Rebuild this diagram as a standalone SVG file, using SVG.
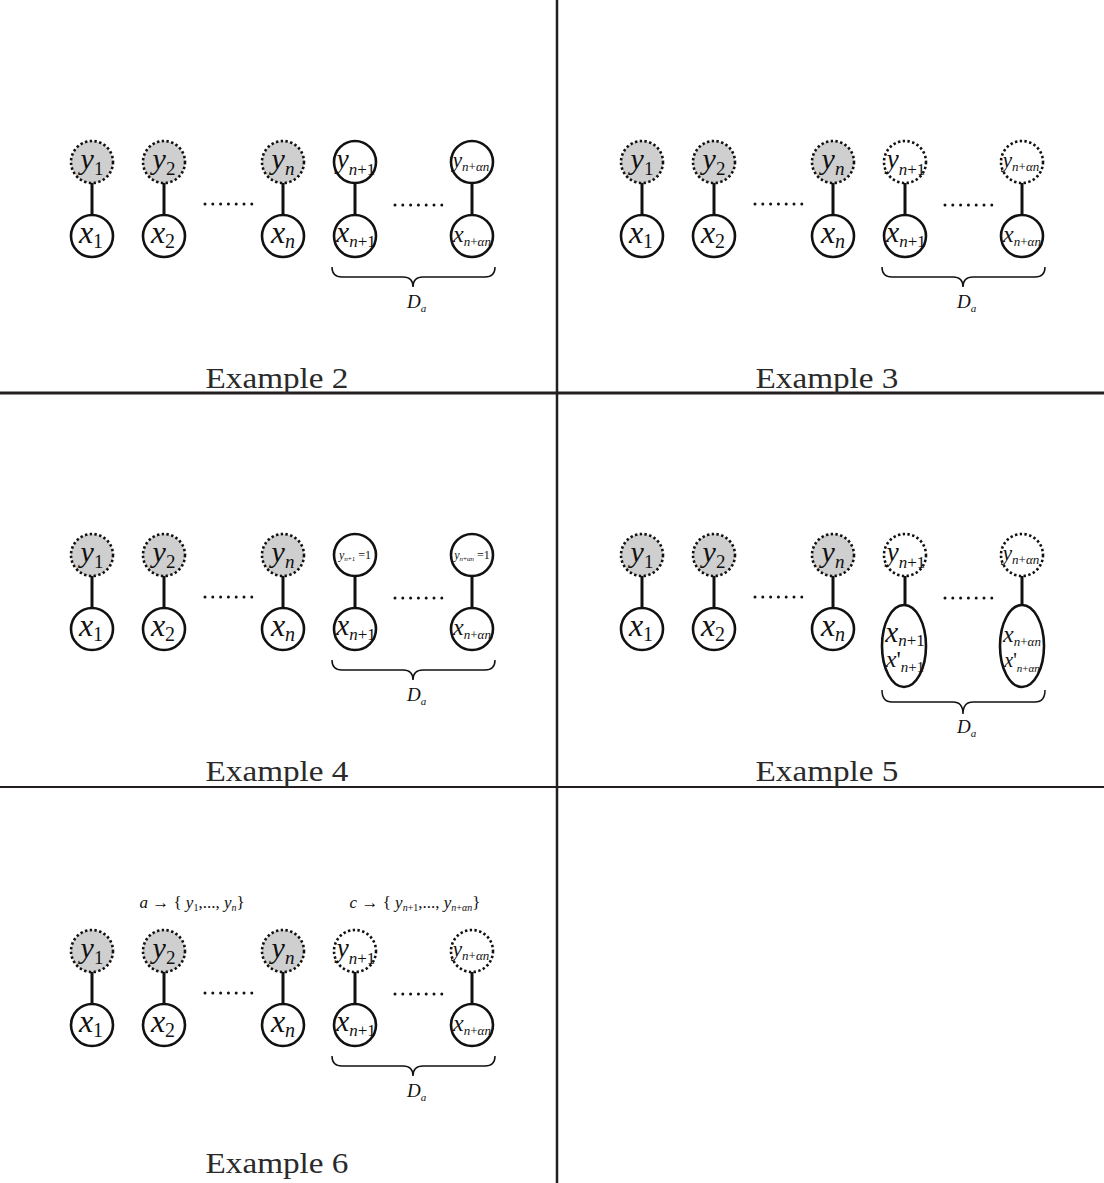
<svg xmlns="http://www.w3.org/2000/svg" width="1104" height="1183" viewBox="0 0 1104 1183">
<style>
.bg{fill:#fff}
.frame{stroke:#231f20;fill:none}
.title{font-family:"Liberation Serif","Times New Roman",serif;font-size:30px;fill:#2a2a2a}
.obs{fill:#cfcfcf;stroke:#111;stroke-width:2.6;stroke-dasharray:2.4 2.4}
.hid{fill:#fff;stroke:#111;stroke-width:2.6;stroke-dasharray:2.4 2.4}
.sol{fill:#fff;stroke:#111;stroke-width:2.6}
.edge{stroke:#111;stroke-width:3}
.dots{stroke:#111;stroke-width:3;stroke-linecap:round;stroke-dasharray:0 7.8;fill:none}
.brace{stroke:#111;stroke-width:1.5;fill:none}
.v{font-family:"Liberation Serif","Times New Roman",serif;font-style:italic;fill:#111}
.r{font-style:normal}
.i{font-style:italic}
</style>
<rect class="bg" x="0" y="0" width="1104" height="1183"/>
<g id="frame">
<line class="frame" x1="557" y1="0" x2="557" y2="1183" stroke-width="2.5"/>
<line class="frame" x1="0" y1="393" x2="1104" y2="393" stroke-width="2.8"/>
<line class="frame" x1="0" y1="787" x2="1104" y2="787" stroke-width="1.8"/>
</g>

<!-- Example 2 -->
<g id="example2">
<g id="ex2-connectors">
<line class="edge" x1="92" y1="183" x2="92" y2="215"/>
<line class="edge" x1="164" y1="183" x2="164" y2="215"/>
<line class="edge" x1="283" y1="183" x2="283" y2="215"/>
<line class="edge" x1="355" y1="183" x2="355" y2="215"/>
<line class="edge" x1="472" y1="183" x2="472" y2="215"/>
<path class="dots" d="M205,204 H252"/>
<path class="dots" d="M395,205 H443"/>
<path class="brace" d="M332,267 Q332,277 342,277 L403,277 Q413,277 413,287 Q413,277 423,277 L485,277 Q495,277 495,267"/>
</g>
<g id="ex2-y1"><circle class="obs" cx="92" cy="162" r="21"/><text class="v" x="92" y="169" text-anchor="middle" font-size="30">y<tspan class="r" font-size="19" dy="6">1</tspan></text></g>
<g id="ex2-y2"><circle class="obs" cx="164" cy="162" r="21"/><text class="v" x="164" y="169" text-anchor="middle" font-size="30">y<tspan class="r" font-size="19" dy="6">2</tspan></text></g>
<g id="ex2-yn"><circle class="obs" cx="283" cy="162" r="21"/><text class="v" x="283" y="169" text-anchor="middle" font-size="30">y<tspan font-size="19" dy="6">n</tspan></text></g>
<g id="ex2-x1"><circle class="sol" cx="92" cy="236" r="21"/><text class="v" x="91" y="243" text-anchor="middle" font-size="32">x<tspan class="r" font-size="20" dy="5">1</tspan></text></g>
<g id="ex2-x2"><circle class="sol" cx="164" cy="236" r="21"/><text class="v" x="163" y="243" text-anchor="middle" font-size="32">x<tspan class="r" font-size="20" dy="5">2</tspan></text></g>
<g id="ex2-xn"><circle class="sol" cx="283" cy="236" r="21"/><text class="v" x="283" y="243" text-anchor="middle" font-size="32">x<tspan font-size="20" dy="5">n</tspan></text></g>
<g id="ex2-yn1"><circle class="sol" cx="355" cy="162" r="21"/><text class="v" x="356" y="168" text-anchor="middle" font-size="27">y<tspan font-size="17" dy="7">n<tspan class="r">+1</tspan></tspan></text></g>
<g id="ex2-ynan"><circle class="sol" cx="472" cy="162" r="21"/><text class="v" x="471" y="167" text-anchor="middle" font-size="21">y<tspan font-size="13" dy="4">n<tspan class="r">+</tspan>αn</tspan></text></g>
<g id="ex2-xn1"><circle class="sol" cx="355" cy="236" r="21"/><text class="v" x="356" y="242" text-anchor="middle" font-size="29">x<tspan font-size="17" dy="5">n<tspan class="r">+1</tspan></tspan></text></g>
<g id="ex2-xnan"><circle class="sol" cx="472" cy="236" r="21"/><text class="v" x="472" y="242" text-anchor="middle" font-size="24">x<tspan font-size="13" dy="4">n<tspan class="r">+</tspan>αn</tspan></text></g>
<g id="ex2-Da"><text class="v" x="407" y="308" font-size="19">D<tspan font-size="11" dy="4">a</tspan></text></g>
<text class="title" x="277" y="388" text-anchor="middle" textLength="143" lengthAdjust="spacingAndGlyphs">Example 2</text>
</g>

<!-- Example 3 -->
<g id="example3" transform="translate(550,0)">
<g id="ex3-connectors">
<line class="edge" x1="92" y1="183" x2="92" y2="215"/>
<line class="edge" x1="164" y1="183" x2="164" y2="215"/>
<line class="edge" x1="283" y1="183" x2="283" y2="215"/>
<line class="edge" x1="355" y1="183" x2="355" y2="215"/>
<line class="edge" x1="472" y1="183" x2="472" y2="215"/>
<path class="dots" d="M205,204 H252"/>
<path class="dots" d="M395,205 H443"/>
<path class="brace" d="M332,267 Q332,277 342,277 L403,277 Q413,277 413,287 Q413,277 423,277 L485,277 Q495,277 495,267"/>
</g>
<g id="ex3-y1"><circle class="obs" cx="92" cy="162" r="21"/><text class="v" x="92" y="169" text-anchor="middle" font-size="30">y<tspan class="r" font-size="19" dy="6">1</tspan></text></g>
<g id="ex3-y2"><circle class="obs" cx="164" cy="162" r="21"/><text class="v" x="164" y="169" text-anchor="middle" font-size="30">y<tspan class="r" font-size="19" dy="6">2</tspan></text></g>
<g id="ex3-yn"><circle class="obs" cx="283" cy="162" r="21"/><text class="v" x="283" y="169" text-anchor="middle" font-size="30">y<tspan font-size="19" dy="6">n</tspan></text></g>
<g id="ex3-x1"><circle class="sol" cx="92" cy="236" r="21"/><text class="v" x="91" y="243" text-anchor="middle" font-size="32">x<tspan class="r" font-size="20" dy="5">1</tspan></text></g>
<g id="ex3-x2"><circle class="sol" cx="164" cy="236" r="21"/><text class="v" x="163" y="243" text-anchor="middle" font-size="32">x<tspan class="r" font-size="20" dy="5">2</tspan></text></g>
<g id="ex3-xn"><circle class="sol" cx="283" cy="236" r="21"/><text class="v" x="283" y="243" text-anchor="middle" font-size="32">x<tspan font-size="20" dy="5">n</tspan></text></g>
<g id="ex3-yn1"><circle class="hid" cx="355" cy="162" r="21"/><text class="v" x="356" y="168" text-anchor="middle" font-size="27">y<tspan font-size="17" dy="7">n<tspan class="r">+1</tspan></tspan></text></g>
<g id="ex3-ynan"><circle class="hid" cx="472" cy="162" r="21"/><text class="v" x="471" y="167" text-anchor="middle" font-size="21">y<tspan font-size="13" dy="4">n<tspan class="r">+</tspan>αn</tspan></text></g>
<g id="ex3-xn1"><circle class="sol" cx="355" cy="236" r="21"/><text class="v" x="356" y="242" text-anchor="middle" font-size="29">x<tspan font-size="17" dy="5">n<tspan class="r">+1</tspan></tspan></text></g>
<g id="ex3-xnan"><circle class="sol" cx="472" cy="236" r="21"/><text class="v" x="472" y="242" text-anchor="middle" font-size="24">x<tspan font-size="13" dy="4">n<tspan class="r">+</tspan>αn</tspan></text></g>
<g id="ex3-Da"><text class="v" x="407" y="308" font-size="19">D<tspan font-size="11" dy="4">a</tspan></text></g>
<text class="title" x="277" y="388" text-anchor="middle" textLength="143" lengthAdjust="spacingAndGlyphs">Example 3</text>
</g>

<!-- Example 4 -->
<g id="example4" transform="translate(0,393)">
<g id="ex4-connectors">
<line class="edge" x1="92" y1="183" x2="92" y2="215"/>
<line class="edge" x1="164" y1="183" x2="164" y2="215"/>
<line class="edge" x1="283" y1="183" x2="283" y2="215"/>
<line class="edge" x1="355" y1="183" x2="355" y2="215"/>
<line class="edge" x1="472" y1="183" x2="472" y2="215"/>
<path class="dots" d="M205,204 H252"/>
<path class="dots" d="M395,205 H443"/>
<path class="brace" d="M332,267 Q332,277 342,277 L403,277 Q413,277 413,287 Q413,277 423,277 L485,277 Q495,277 495,267"/>
</g>
<g id="ex4-y1"><circle class="obs" cx="92" cy="162" r="21"/><text class="v" x="92" y="169" text-anchor="middle" font-size="30">y<tspan class="r" font-size="19" dy="6">1</tspan></text></g>
<g id="ex4-y2"><circle class="obs" cx="164" cy="162" r="21"/><text class="v" x="164" y="169" text-anchor="middle" font-size="30">y<tspan class="r" font-size="19" dy="6">2</tspan></text></g>
<g id="ex4-yn"><circle class="obs" cx="283" cy="162" r="21"/><text class="v" x="283" y="169" text-anchor="middle" font-size="30">y<tspan font-size="19" dy="6">n</tspan></text></g>
<g id="ex4-x1"><circle class="sol" cx="92" cy="236" r="21"/><text class="v" x="91" y="243" text-anchor="middle" font-size="32">x<tspan class="r" font-size="20" dy="5">1</tspan></text></g>
<g id="ex4-x2"><circle class="sol" cx="164" cy="236" r="21"/><text class="v" x="163" y="243" text-anchor="middle" font-size="32">x<tspan class="r" font-size="20" dy="5">2</tspan></text></g>
<g id="ex4-xn"><circle class="sol" cx="283" cy="236" r="21"/><text class="v" x="283" y="243" text-anchor="middle" font-size="32">x<tspan font-size="20" dy="5">n</tspan></text></g>
<g id="ex4-yn1"><circle class="sol" cx="355" cy="162" r="21"/><text class="v" x="355" y="166" text-anchor="middle" font-size="12">y<tspan font-size="7" dy="2">n<tspan class="r">+1</tspan></tspan><tspan class="r" dy="-2"> =1</tspan></text></g>
<g id="ex4-ynan"><circle class="sol" cx="472" cy="162" r="21"/><text class="v" x="472" y="166" text-anchor="middle" font-size="12">y<tspan font-size="7" dy="2">n<tspan class="r">+</tspan>αn</tspan><tspan class="r" dy="-2"> =1</tspan></text></g>
<g id="ex4-xn1"><circle class="sol" cx="355" cy="236" r="21"/><text class="v" x="356" y="242" text-anchor="middle" font-size="29">x<tspan font-size="17" dy="5">n<tspan class="r">+1</tspan></tspan></text></g>
<g id="ex4-xnan"><circle class="sol" cx="472" cy="236" r="21"/><text class="v" x="472" y="242" text-anchor="middle" font-size="24">x<tspan font-size="13" dy="4">n<tspan class="r">+</tspan>αn</tspan></text></g>
<g id="ex4-Da"><text class="v" x="407" y="308" font-size="19">D<tspan font-size="11" dy="4">a</tspan></text></g>
<text class="title" x="277" y="388" text-anchor="middle" textLength="143" lengthAdjust="spacingAndGlyphs">Example 4</text>
</g>

<!-- Example 5 -->
<g id="example5" transform="translate(550,393)">
<g id="ex5-connectors">
<line class="edge" x1="92" y1="183" x2="92" y2="215"/>
<line class="edge" x1="164" y1="183" x2="164" y2="215"/>
<line class="edge" x1="283" y1="183" x2="283" y2="215"/>
<line class="edge" x1="355" y1="183" x2="355" y2="212"/>
<line class="edge" x1="472" y1="183" x2="472" y2="212"/>
<path class="dots" d="M205,204 H252"/>
<path class="dots" d="M395,205 H443"/>
<path class="brace" d="M332,297 Q332,309 342,309 L403,309 Q413,309 413,321 Q413,309 423,309 L485,309 Q495,309 495,297"/>
</g>
<g id="ex5-y1"><circle class="obs" cx="92" cy="162" r="21"/><text class="v" x="92" y="169" text-anchor="middle" font-size="30">y<tspan class="r" font-size="19" dy="6">1</tspan></text></g>
<g id="ex5-y2"><circle class="obs" cx="164" cy="162" r="21"/><text class="v" x="164" y="169" text-anchor="middle" font-size="30">y<tspan class="r" font-size="19" dy="6">2</tspan></text></g>
<g id="ex5-yn"><circle class="obs" cx="283" cy="162" r="21"/><text class="v" x="283" y="169" text-anchor="middle" font-size="30">y<tspan font-size="19" dy="6">n</tspan></text></g>
<g id="ex5-x1"><circle class="sol" cx="92" cy="236" r="21"/><text class="v" x="91" y="243" text-anchor="middle" font-size="32">x<tspan class="r" font-size="20" dy="5">1</tspan></text></g>
<g id="ex5-x2"><circle class="sol" cx="164" cy="236" r="21"/><text class="v" x="163" y="243" text-anchor="middle" font-size="32">x<tspan class="r" font-size="20" dy="5">2</tspan></text></g>
<g id="ex5-xn"><circle class="sol" cx="283" cy="236" r="21"/><text class="v" x="283" y="243" text-anchor="middle" font-size="32">x<tspan font-size="20" dy="5">n</tspan></text></g>
<g id="ex5-yn1"><circle class="hid" cx="355" cy="162" r="21"/><text class="v" x="356" y="168" text-anchor="middle" font-size="27">y<tspan font-size="17" dy="7">n<tspan class="r">+1</tspan></tspan></text></g>
<g id="ex5-ynan"><circle class="hid" cx="472" cy="162" r="21"/><text class="v" x="471" y="167" text-anchor="middle" font-size="21">y<tspan font-size="13" dy="4">n<tspan class="r">+</tspan>αn</tspan></text></g>
<g id="ex5-xn1"><ellipse class="sol" cx="354" cy="253" rx="22" ry="41"/>
<text class="v" x="355" y="249" text-anchor="middle" font-size="29">x<tspan font-size="17" dy="4">n<tspan class="r">+1</tspan></tspan></text>
<text class="v" x="355" y="274" text-anchor="middle" font-size="24">x<tspan class="r">'</tspan><tspan font-size="15" dy="5">n<tspan class="r">+1</tspan></tspan></text></g>
<g id="ex5-xnan"><ellipse class="sol" cx="472" cy="253" rx="22" ry="41"/>
<text class="v" x="472" y="249" text-anchor="middle" font-size="24">x<tspan font-size="13" dy="4">n<tspan class="r">+</tspan>αn</tspan></text>
<text class="v" x="472" y="274" text-anchor="middle" font-size="20">x<tspan class="r">'</tspan><tspan font-size="11" dy="5">n<tspan class="r">+</tspan>αn</tspan></text></g>
<g id="ex5-Da"><text class="v" x="407" y="340" font-size="19">D<tspan font-size="11" dy="4">a</tspan></text></g>
<text class="title" x="277" y="388" text-anchor="middle" textLength="143" lengthAdjust="spacingAndGlyphs">Example 5</text>
</g>

<!-- Example 6 -->
<g id="example6" transform="translate(0,789)">
<g id="ex6-connectors">
<line class="edge" x1="92" y1="183" x2="92" y2="215"/>
<line class="edge" x1="164" y1="183" x2="164" y2="215"/>
<line class="edge" x1="283" y1="183" x2="283" y2="215"/>
<line class="edge" x1="355" y1="183" x2="355" y2="215"/>
<line class="edge" x1="472" y1="183" x2="472" y2="215"/>
<path class="dots" d="M205,204 H252"/>
<path class="dots" d="M395,205 H443"/>
<path class="brace" d="M332,267 Q332,277 342,277 L403,277 Q413,277 413,287 Q413,277 423,277 L485,277 Q495,277 495,267"/>
</g>
<g id="ex6-labelA"><text class="v" x="192" y="119" text-anchor="middle" font-size="17">a<tspan class="r"> → { </tspan>y<tspan class="r" font-size="10" dy="3">1</tspan><tspan class="r" dy="-3">,..., </tspan>y<tspan font-size="10" dy="3">n</tspan><tspan class="r" dy="-3">}</tspan></text></g>
<g id="ex6-labelC"><text class="v" x="415" y="119" text-anchor="middle" font-size="17">c<tspan class="r"> → { </tspan>y<tspan font-size="10" dy="3">n<tspan class="r">+1</tspan></tspan><tspan class="r" dy="-3">,..., </tspan>y<tspan font-size="10" dy="3">n<tspan class="r">+</tspan>αn</tspan><tspan class="r" dy="-3">}</tspan></text></g>
<g id="ex6-y1"><circle class="obs" cx="92" cy="162" r="21"/><text class="v" x="92" y="169" text-anchor="middle" font-size="30">y<tspan class="r" font-size="19" dy="6">1</tspan></text></g>
<g id="ex6-y2"><circle class="obs" cx="164" cy="162" r="21"/><text class="v" x="164" y="169" text-anchor="middle" font-size="30">y<tspan class="r" font-size="19" dy="6">2</tspan></text></g>
<g id="ex6-yn"><circle class="obs" cx="283" cy="162" r="21"/><text class="v" x="283" y="169" text-anchor="middle" font-size="30">y<tspan font-size="19" dy="6">n</tspan></text></g>
<g id="ex6-x1"><circle class="sol" cx="92" cy="236" r="21"/><text class="v" x="91" y="243" text-anchor="middle" font-size="32">x<tspan class="r" font-size="20" dy="5">1</tspan></text></g>
<g id="ex6-x2"><circle class="sol" cx="164" cy="236" r="21"/><text class="v" x="163" y="243" text-anchor="middle" font-size="32">x<tspan class="r" font-size="20" dy="5">2</tspan></text></g>
<g id="ex6-xn"><circle class="sol" cx="283" cy="236" r="21"/><text class="v" x="283" y="243" text-anchor="middle" font-size="32">x<tspan font-size="20" dy="5">n</tspan></text></g>
<g id="ex6-yn1"><circle class="hid" cx="355" cy="162" r="21"/><text class="v" x="356" y="168" text-anchor="middle" font-size="27">y<tspan font-size="17" dy="7">n<tspan class="r">+1</tspan></tspan></text></g>
<g id="ex6-ynan"><circle class="hid" cx="472" cy="162" r="21"/><text class="v" x="471" y="167" text-anchor="middle" font-size="21">y<tspan font-size="13" dy="4">n<tspan class="r">+</tspan>αn</tspan></text></g>
<g id="ex6-xn1"><circle class="sol" cx="355" cy="236" r="21"/><text class="v" x="356" y="242" text-anchor="middle" font-size="29">x<tspan font-size="17" dy="5">n<tspan class="r">+1</tspan></tspan></text></g>
<g id="ex6-xnan"><circle class="sol" cx="472" cy="236" r="21"/><text class="v" x="472" y="242" text-anchor="middle" font-size="24">x<tspan font-size="13" dy="4">n<tspan class="r">+</tspan>αn</tspan></text></g>
<g id="ex6-Da"><text class="v" x="407" y="308" font-size="19">D<tspan font-size="11" dy="4">a</tspan></text></g>
<text class="title" x="277" y="384" text-anchor="middle" textLength="143" lengthAdjust="spacingAndGlyphs">Example 6</text>
</g>
</svg>
